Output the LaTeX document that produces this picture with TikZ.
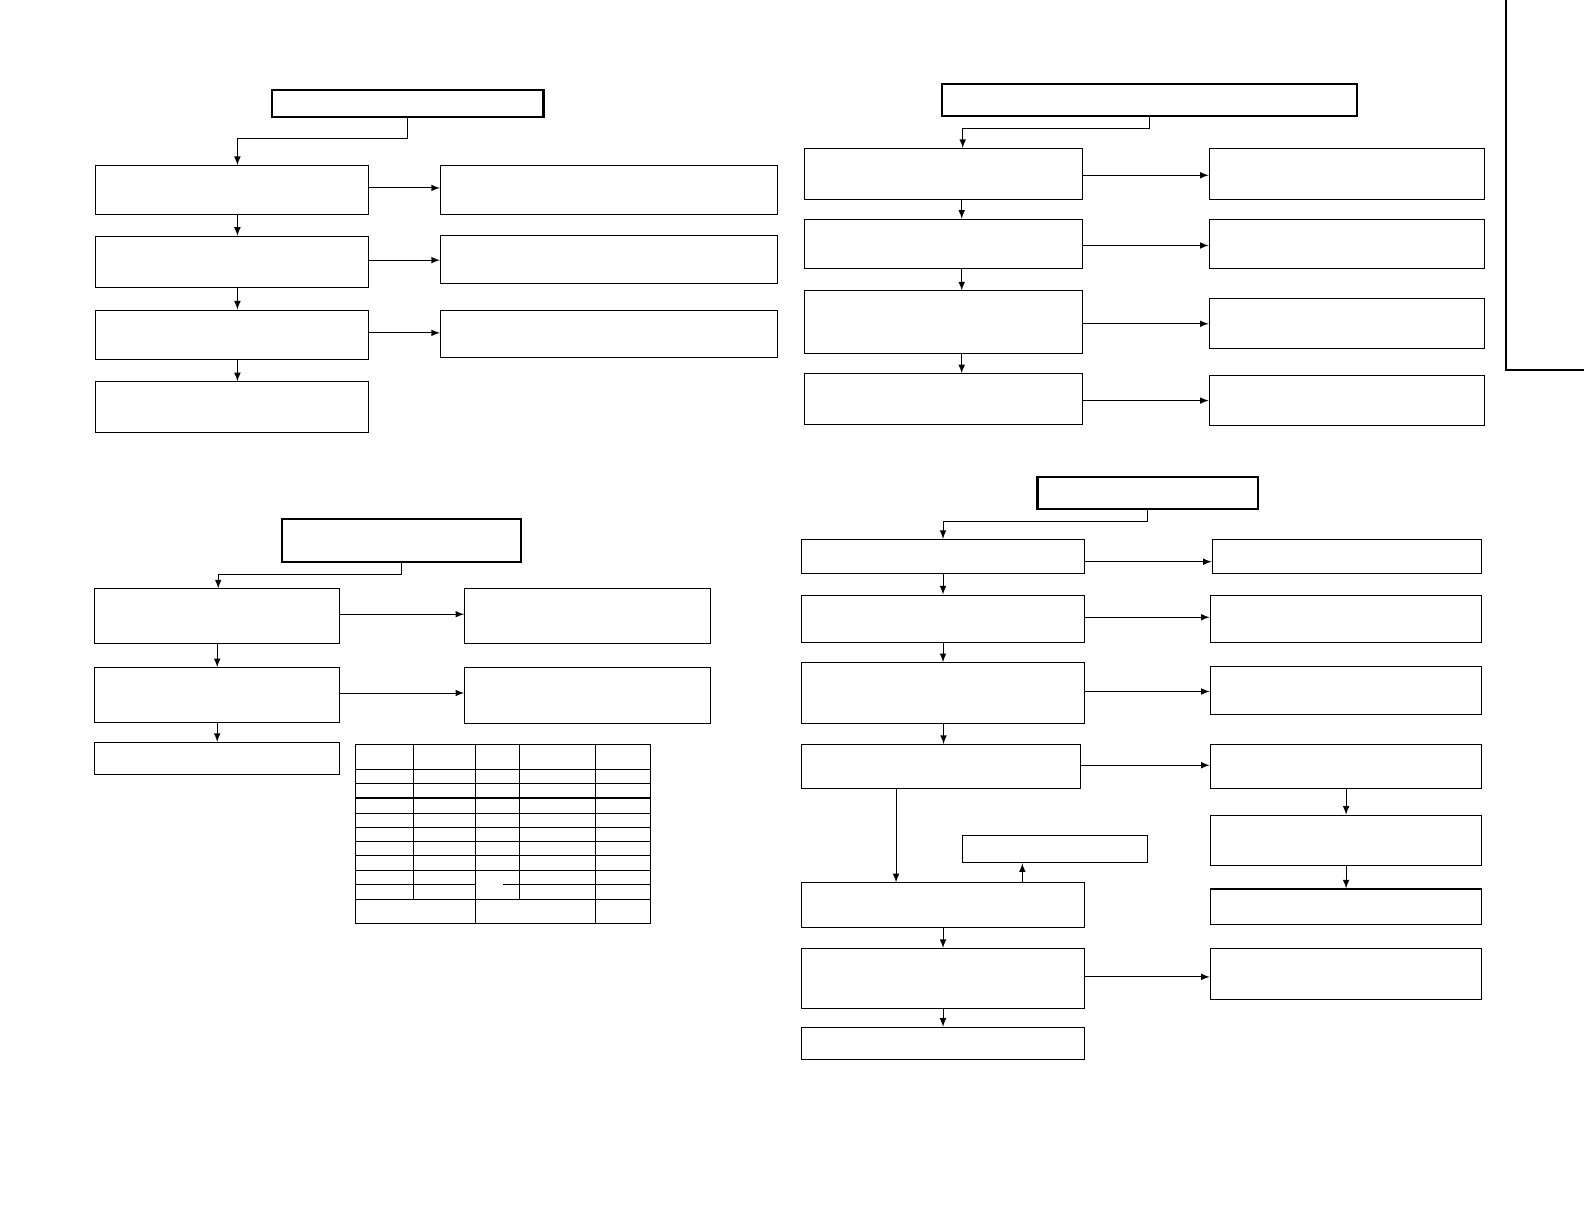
\documentclass[tikz,border=0pt]{standalone}
\usepackage{tikz}
\usetikzlibrary{arrows.meta,positioning,calc,fit}

\begin{document}
\begin{tikzpicture}[
  x=0.5pt, y=-0.5pt,
  box/.style={draw, line width=0.5pt, inner sep=0pt},
  head/.style={box, line width=1pt},
  arr/.style={-latex, line width=0.5pt},
  grid/.style={line width=0.5pt},
]
\useasboundingbox (0,0) rectangle (1568,1212);
% top left
\node[head, fit={(269,89)(538,116)}] (t1) {};
\node[box, fit={(95,164)(365,212)}] (l1) {};
\node[box, fit={(95,234)(365,285)}] (l2) {};
\node[box, fit={(95,307)(365,356)}] (l3) {};
\node[box, fit={(95,378)(365,428)}] (l4) {};
\node[box, fit={(436,164)(770,212)}] (r1) {};
\node[box, fit={(436,233)(770,281)}] (r2) {};
\node[box, fit={(436,307)(770,354)}] (r3) {};
\draw[arr] (t1.south) |- ($(l1.north)+(5,-26)$) -- ($(l1.north)+(5,0)$);
\foreach \a/\b in {l1/l2,l2/l3,l3/l4}
  \draw[arr] ($(\a.south)+(5,0)$) -- ($(\b.north)+(5,0)$);
\foreach \a/\b in {l1/r1,l2/r2,l3/r3}
  \draw[arr] ($(\a.east)+(0,-2)$) -- ($(\a.east -| \b.west)+(0,-2)$);
% top right
\node[head, fit={(932,83)(1343,115)}] (t2) {};
\node[box, fit={(796,147)(1072,197)}] (a1) {};
\node[box, fit={(796,217)(1072,266)}] (a2) {};
\node[box, fit={(796,288)(1072,350)}] (a3) {};
\node[box, fit={(796,370)(1072,420)}] (a4) {};
\node[box, fit={(1197,147)(1469,197)}] (b1) {};
\node[box, fit={(1197,217)(1469,266)}] (b2) {};
\node[box, fit={(1197,295)(1469,345)}] (b3) {};
\node[box, fit={(1197,372)(1469,421)}] (b4) {};
\draw[arr] (t2.south) |- ($(a1.north)+(19,-19)$) -- ($(a1.north)+(19,0)$);
\foreach \a/\b in {a1/a2,a2/a3,a3/a4}
  \draw[arr] ($(\a.south)+(18,0)$) -- ($(\b.north)+(18,0)$);
\foreach \a/\b in {a1/b1,a2/b2,a3/b3,a4/b4}
  \draw[arr] ($(\a.east)+(0,1.5)$) -- ($(\a.east -| \b.west)+(0,1.5)$);
\draw[line width=1.2pt] (1491,0) -- (1491,366) -- (1568,366);
% bottom left
\node[head, fit={(279,514)(516,556)}] (t3) {};
\node[box, fit={(94,583)(336,637)}] (c1) {};
\node[box, fit={(94,661)(336,715)}] (c2) {};
\node[box, fit={(94,735)(336,767)}] (c3) {};
\node[box, fit={(460,583)(703,637)}] (d1) {};
\node[box, fit={(460,661)(703,716)}] (d2) {};
\draw[arr] (t3.south) |- ($(c1.north)+(1,-14)$) -- ($(c1.north)+(1,0)$);
\foreach \a/\b in {c1/c2,c2/c3}
  \draw[arr] (\a.south) -- (\b.north);
\foreach \a/\b in {c1/d1,c2/d2}
  \draw[arr] ($(\a.east)+(0,-2)$) -- ($(\a.east -| \b.west)+(0,-2)$);
% table
\draw[grid] (351.7,736.8) rectangle (644.4,914);
\foreach \y in {761.3,775.4,805.1,819.3,832.5,847.1,861.5,890.2}
  \draw[grid] (351.7,\y) -- (644.4,\y);
\draw[line width=0.8pt] (351.7,790.2) -- (644.4,790.2);
\draw[grid] (351.7,875.1) -- (470.5,875.1) (498,875.1) -- (644.4,875.1);
\foreach \x in {409.2,514.1}
  \draw[grid] (\x,736.8) -- (\x,890.2);
\foreach \x in {470.5,589.3}
  \draw[grid] (\x,736.8) -- (\x,914);
% bottom right
\node[head, fit={(1027,472)(1245,504)}] (t4) {};
\node[box, fit={(793,534)(1074,568)}] (e1) {};
\node[box, fit={(793,589)(1074,636)}] (e2) {};
\node[box, fit={(793,656)(1074,716)}] (e3) {};
\node[box, fit={(793,737)(1070,781)}] (e4) {};
\node[box, fit={(793,874)(1074,918)}] (e5) {};
\node[box, fit={(793,939)(1074,998)}] (e6) {};
\node[box, fit={(793,1017)(1074,1049)}] (e7) {};
\node[box, fit={(953,827)(1136,854)}] (g1) {};
\node[box, fit={(1200,534)(1467,568)}] (f1) {};
\node[box, fit={(1198,589)(1467,636)}] (f2) {};
\node[box, fit={(1198,660)(1467,707)}] (f3) {};
\node[box, fit={(1198,737)(1467,781)}] (f4) {};
\node[box, fit={(1198,807)(1467,857)}] (f5) {};
\node[box, fit={(1198,880)(1467,915)}] (f6) {};
\node[box, fit={(1198,939)(1467,989)}] (f7) {};
\draw[arr] (t4.south) |- ($(e1.north)+(0,-17)$) -- (e1.north);
\foreach \a/\b in {e1/e2,e2/e3,e5/e6,e6/e7,f4/f5,f5/f6}
  \draw[arr] (\a.south) -- (\b.north);
\draw[arr] ($(e3.south)+(0.5,0)$) -- ($(e4.north)+(2.5,0)$);
\draw[arr] ($(e1.east)+(0,5)$) -- ($(e1.east -| f1.west)+(0,5)$);
\foreach \a/\b in {e2/f2,e3/f3,e4/f4,e6/f7}
  \draw[arr] ($(\a.east)+(0,-1.5)$) -- ($(\a.east -| \b.west)+(0,-1.5)$);
\draw[arr] ($(e4.south)+(-44.5,0)$) -- ($(e5.north)+(-46.5,0)$);
\draw[arr] ($(e5.north)+(78.5,0)$) -- ($(g1.south)+(-32.5,0)$);
\end{tikzpicture}
\end{document}
